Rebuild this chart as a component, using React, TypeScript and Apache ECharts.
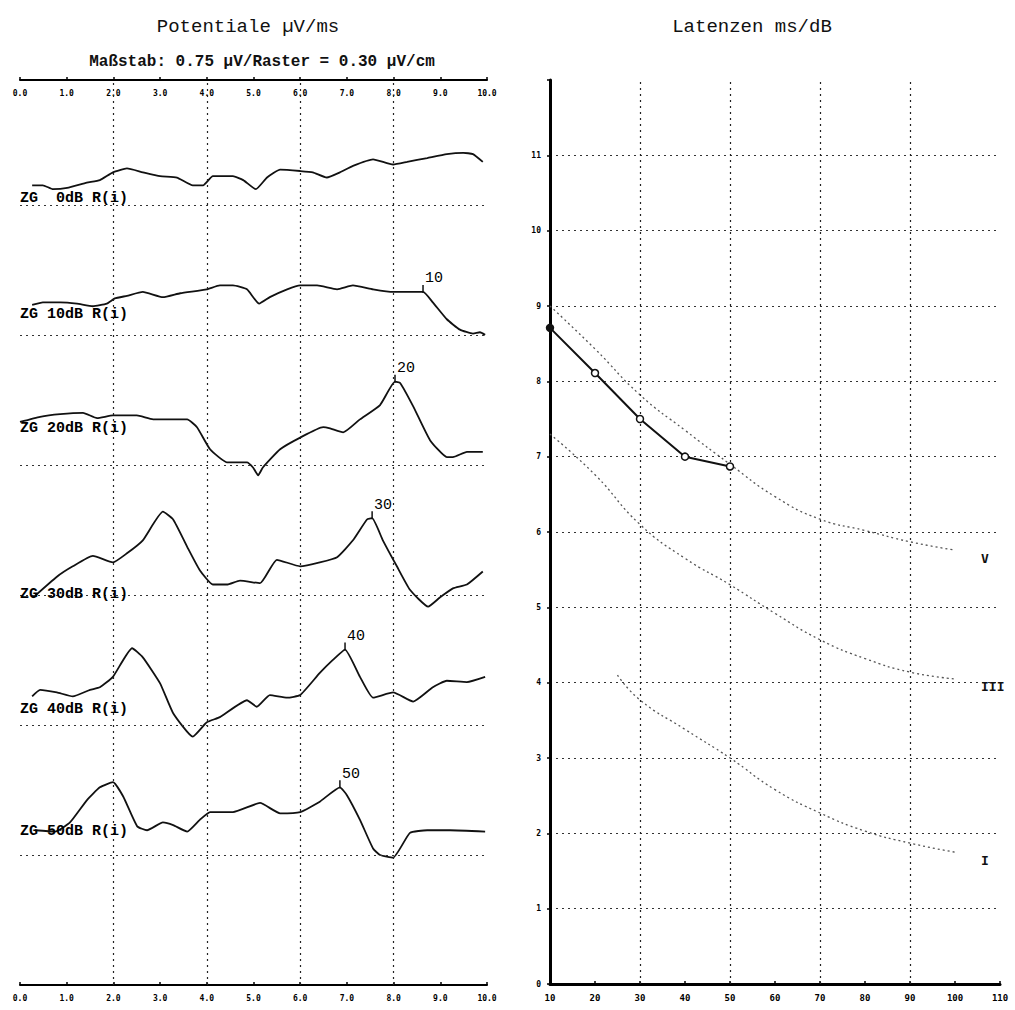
import React, { useEffect, useRef } from "react";
import * as echarts from "echarts";

// ---------- Left panel: potentials (ms vs amplitude, raster units) ----------
const traceLabels = ["ZG  0dB R(i)", "ZG 10dB R(i)", "ZG 20dB R(i)", "ZG 30dB R(i)", "ZG 40dB R(i)", "ZG 50dB R(i)"];

const trace0dB: [number, number][] = [[0.26,.15],[0.49,.15],[0.71,.12],[1.01,.13],[1.43,.17],[1.71,.19],[1.99,.25],[2.29,.28],[2.63,.25],[3.0,.22],[3.36,.21],[3.7,.15],[3.92,.15],[4.13,.22],[4.56,.22],[4.78,.19],[5.05,.12],[5.29,.21],[5.57,.27],[6.0,.26],[6.27,.25],[6.57,.21],[6.85,.25],[7.13,.3],[7.56,.35],[7.99,.31],[8.29,.33],[8.72,.36],[9.14,.39],[9.49,.4],[9.7,.39],[9.91,.33]];
const trace10dB: [number, number][] = [[0.26,.23],[0.49,.25],[0.86,.25],[1.22,.24],[1.56,.22],[1.86,.24],[2.03,.28],[2.29,.3],[2.63,.33],[3.06,.29],[3.43,.32],[4.0,.35],[4.28,.38],[4.56,.38],[4.86,.35],[5.12,.24],[5.35,.29],[5.72,.35],[6.0,.38],[6.36,.38],[6.79,.35],[7.13,.38],[7.56,.35],[7.99,.33],[8.63,.33],[8.84,.25],[9.14,.12],[9.42,.04],[9.7,.01],[9.85,.02],[9.96,0]];
const trace20dB: [number, number][] = [[0.0,.33],[0.43,.37],[0.86,.39],[1.35,.4],[1.65,.36],[1.99,.38],[2.5,.38],[2.85,.35],[3.15,.35],[3.58,.35],[3.79,.29],[4.07,.12],[4.43,.02],[4.86,.02],[4.99,-.02],[5.1,-.08],[5.2,-.02],[5.57,.12],[6.0,.21],[6.49,.29],[6.64,.28],[6.92,.25],[7.28,.35],[7.71,.46],[8.03,.64],[8.14,.63],[8.42,.45],[8.78,.19],[9.14,.06],[9.27,.06],[9.57,.1],[9.91,.1]];
const trace30dB: [number, number][] = [[0.28,-.02],[0.79,.14],[1.13,.22],[1.56,.3],[1.99,.25],[2.29,.32],[2.63,.42],[3.06,.64],[3.28,.58],[3.58,.37],[3.85,.19],[4.13,.08],[4.43,.08],[4.71,.11],[5.14,.09],[5.5,.27],[6.0,.22],[6.42,.25],[6.79,.29],[7.13,.42],[7.43,.58],[7.54,.59],[7.77,.42],[8.07,.22],[8.35,.04],[8.74,-.09],[8.99,-.02],[9.27,.05],[9.57,.08],[9.91,.18]];
const trace40dB: [number, number][] = [[0.26,.22],[0.43,.27],[0.79,.25],[1.13,.22],[1.5,.27],[1.71,.29],[1.99,.37],[2.4,.59],[2.63,.52],[3.0,.32],[3.28,.09],[3.7,-.09],[4.0,.02],[4.28,.06],[4.86,.19],[5.07,.14],[5.35,.23],[5.72,.21],[6.0,.23],[6.42,.4],[6.7,.5],[6.96,.58],[7.28,.37],[7.56,.21],[7.99,.25],[8.42,.18],[8.84,.29],[9.14,.34],[9.57,.33],[9.96,.37]];
const trace50dB: [number, number][] = [[0.32,.19],[0.75,.18],[1.07,.25],[1.43,.42],[1.71,.52],[1.99,.56],[2.21,.45],[2.51,.22],[2.72,.19],[3.06,.25],[3.28,.23],[3.58,.18],[3.85,.27],[4.07,.33],[4.56,.33],[5.14,.4],[5.57,.32],[6.0,.33],[6.42,.41],[6.85,.52],[7.0,.46],[7.28,.27],[7.56,.05],[7.71,0],[7.99,-.02],[8.35,.17],[8.72,.19],[9.21,.19],[9.96,.18]];
const traces = [trace0dB, trace10dB, trace20dB, trace30dB, trace40dB, trace50dB];

// Peak (wave V) markers: trace index, label, [ms, amplitude]
const peakTraceIndex = [1, 2, 3, 4, 5];
const peakLabels = ["10", "20", "30", "40", "50"];
const peakPoints: [number, number][] = [[8.63, .33], [8.03, .64], [7.54, .59], [6.96, .58], [6.85, .52]];

const msGridLines = [2, 4, 6, 8];

// ---------- Right panel: latencies (dB vs ms) ----------
const dbLevels = [10, 20, 30, 40, 50];
const latencyV = [8.71, 8.11, 7.5, 7.0, 6.87];

const normDb = [10, 20, 30, 40, 50, 60, 70, 80, 90, 100];
const normV = [9.0, 8.43, 7.82, 7.35, 6.9, 6.47, 6.17, 6.02, 5.87, 5.76];
const normIII = [7.3, 6.76, 6.1, 5.65, 5.3, 4.92, 4.57, 4.32, 4.14, 4.05];
const normIDb = [25, 30, 40, 50, 60, 70, 80, 90, 100];
const normI = [4.1, 3.77, 3.38, 3.0, 2.58, 2.27, 2.03, 1.87, 1.75];

const dbGridLines = [30, 50, 70, 90];

// layout constants (not data)
const labelLift = [0.05, 0.16, 0.28, 0.0, 0.12, 0.18];

const mono = "'DejaVu Sans Mono', monospace";
const thin = "'Liberation Mono', monospace";

export default function App() {
  const ref = useRef<HTMLDivElement>(null);
  useEffect(() => {
    if (!ref.current) return;
    const chart = echarts.init(ref.current, null, { renderer: "svg" });

    const tickLabel = { fontSize: 8, fontWeight: "bold", color: "#000", fontFamily: mono };

    const series: any[] = [];

    // vertical dotted grid (left)
    series.push({
      type: "line", xAxisIndex: 0, yAxisIndex: 0, data: [], silent: true,
      markLine: {
        silent: true, symbol: "none", label: { show: false },
        lineStyle: { type: [2, 4], color: "#222", width: 1.2 },
        data: msGridLines.map((v) => ({ xAxis: v })),
      },
    });

    traces.forEach((tr, k) => {
      series.push({
        type: "line", xAxisIndex: 0, yAxisIndex: 0,
        data: tr.map(([x, y]) => [x, y - k]),
        showSymbol: false, smooth: 0.15,
        lineStyle: { color: "#111", width: 1.8 },
        markLine: {
          silent: true, symbol: "none", label: { show: false },
          lineStyle: { type: [2, 4], color: "#333", width: 1.2 },
          data: [{ yAxis: -k }],
        },
      });
    });

    // trace labels
    series.push({
      type: "scatter", xAxisIndex: 0, yAxisIndex: 0, symbolSize: 0,
      itemStyle: { opacity: 1 },
      data: traceLabels.map((t, k) => ({ value: [0, -k + labelLift[k]], name: t })),
      label: {
        show: true, position: "right", distance: 0, formatter: (p: any) => p.name,
        fontSize: 15, fontWeight: "bold", color: "#000", fontFamily: thin,
      },
      z: 6,
    });

    // peak markers
    series.push({
      type: "scatter", xAxisIndex: 0, yAxisIndex: 0,
      symbol: "rect", symbolSize: [1.5, 8], symbolOffset: [0, -3],
      itemStyle: { color: "#111", opacity: 1 },
      data: peakPoints.map(([x, y], i) => ({ value: [x, y - peakTraceIndex[i]], name: peakLabels[i] })),
      label: {
        show: true, position: "inside", offset: [11, -10], formatter: (p: any) => p.name,
        fontSize: 15, color: "#000", fontFamily: thin,
      },
      z: 6,
    });

    // right panel vertical grid
    series.push({
      type: "line", xAxisIndex: 2, yAxisIndex: 1, data: [], silent: true,
      markLine: {
        silent: true, symbol: "none", label: { show: false },
        lineStyle: { type: [2, 4], color: "#222", width: 1.2 },
        data: dbGridLines.map((v) => ({ xAxis: v })),
      },
    });

    const normStyle = { type: [2, 3], color: "#555", width: 1.3 };
    const endLbl = (t: string) => ({
      show: true, formatter: t, offset: [18, 8], fontSize: 13, fontWeight: "bold", color: "#111", fontFamily: mono,
    });
    series.push({
      type: "line", xAxisIndex: 2, yAxisIndex: 1, smooth: true, showSymbol: false,
      data: normDb.map((d, i) => [d, normV[i]]), lineStyle: normStyle, endLabel: endLbl("V"),
    });
    series.push({
      type: "line", xAxisIndex: 2, yAxisIndex: 1, smooth: true, showSymbol: false,
      data: normDb.map((d, i) => [d, normIII[i]]), lineStyle: normStyle, endLabel: endLbl("III"),
    });
    series.push({
      type: "line", xAxisIndex: 2, yAxisIndex: 1, smooth: true, showSymbol: false,
      data: normIDb.map((d, i) => [d, normI[i]]), lineStyle: normStyle, endLabel: endLbl("I"),
    });

    series.push({
      type: "line", xAxisIndex: 2, yAxisIndex: 1,
      data: dbLevels.map((d, i) => ({
        value: [d, latencyV[i]],
        itemStyle: i === 0 ? { color: "#111", borderColor: "#111" } : undefined,
      })),
      symbol: "circle", symbolSize: 7, showSymbol: true,
      lineStyle: { color: "#111", width: 2 },
      itemStyle: { color: "#fff", borderColor: "#111", borderWidth: 1.5 },
      z: 5,
    });

    const option: any = {
      animation: false,
      backgroundColor: "#fff",
      grid: [
        { left: 20, top: 80, width: 467, height: 905 },
        { left: 550, top: 80, width: 450, height: 904 },
      ],
      xAxis: [
        {
          gridIndex: 0, type: "value", min: 0, max: 10, interval: 1, position: "bottom",
          axisLine: { onZero: false, lineStyle: { color: "#000", width: 2 } },
          axisTick: { inside: true, length: 3, lineStyle: { color: "#000", width: 1.5 } },
          axisLabel: { ...tickLabel, margin: 9, formatter: (v: number) => v.toFixed(1) },
          splitLine: { show: false },
        },
        {
          gridIndex: 0, type: "value", min: 0, max: 10, interval: 1, position: "top",
          axisLine: { onZero: false, lineStyle: { color: "#000", width: 2 } },
          axisTick: { inside: false, length: 3, lineStyle: { color: "#000", width: 1.5 } },
          axisLabel: { ...tickLabel, inside: true, margin: 9, formatter: (v: number) => v.toFixed(1) },
          splitLine: { show: false },
        },
        {
          gridIndex: 1, type: "value", min: 10, max: 110, interval: 10, position: "bottom",
          axisLine: { onZero: false, lineStyle: { color: "#000", width: 3 } },
          axisTick: { inside: true, length: 3, lineStyle: { color: "#000", width: 1.5 } },
          axisLabel: { ...tickLabel, fontSize: 9, margin: 9 },
          splitLine: { show: false },
        },
      ],
      yAxis: [
        { gridIndex: 0, type: "value", min: -6, max: 0.96, show: false, splitLine: { show: false } },
        {
          gridIndex: 1, type: "value", min: 0, max: 12, interval: 1,
          axisLine: { show: true, onZero: false, lineStyle: { color: "#000", width: 3 } },
          axisTick: { show: true, length: 3, lineStyle: { color: "#000", width: 1.5 } },
          axisLabel: { ...tickLabel, margin: 9, formatter: (v: number) => (v === 12 ? "" : String(v)) },
          splitLine: {
            show: true, showMinLine: false, showMaxLine: false,
            lineStyle: { type: [2, 4], color: "#333", width: 1.2 },
          },
        },
      ],
      graphic: [
        { type: "text", x: 248, y: 27, style: { text: "Potentiale µV/ms", fill: "#111", font: `19px ${thin}`, textAlign: "center", textVerticalAlign: "middle" } },
        { type: "text", x: 262, y: 62, style: { text: "Maßstab: 0.75 µV/Raster = 0.30 µV/cm", fill: "#111", font: `bold 16px ${thin}`, textAlign: "center", textVerticalAlign: "middle" } },
        { type: "text", x: 752, y: 27, style: { text: "Latenzen ms/dB", fill: "#111", font: `19px ${thin}`, textAlign: "center", textVerticalAlign: "middle" } },
      ],
      series,
    };
    chart.setOption(option);
    return () => chart.dispose();
  }, []);

  return <div ref={ref} style={{ position: "fixed", left: 0, top: 0, width: 1015, height: 1010, background: "#fff" }} />;
}
